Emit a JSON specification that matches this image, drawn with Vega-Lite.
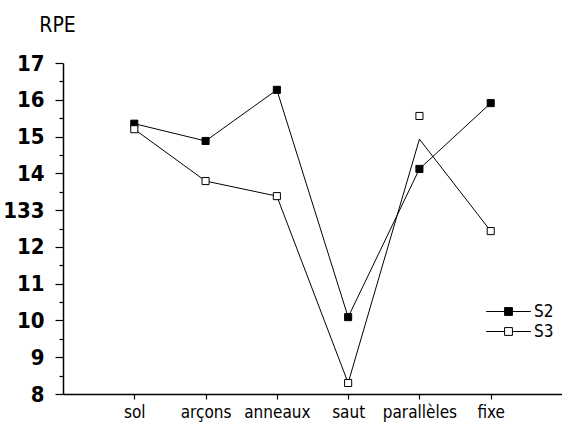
{
  "$schema": "https://vega.github.io/schema/vega-lite/v6.json",
  "width": 499,
  "height": 331,
  "autosize": {"type": "none"},
  "padding": {"left": 63, "top": 63, "right": 0, "bottom": 33},
  "background": "white",
  "config": {
    "view": {"stroke": null},
    "font": "DejaVu Sans Condensed",
    "axis": {"grid": false, "domainColor": "black", "tickColor": "black", "labelColor": "black", "titleColor": "black", "domainWidth": 1.5, "tickWidth": 1.2}
  },
  "data": {
    "values": [
      {"agres": "sol", "serie": "S2", "rpe": 15.35, "ligne": 15.35},
      {"agres": "arçons", "serie": "S2", "rpe": 14.88, "ligne": 14.88},
      {"agres": "anneaux", "serie": "S2", "rpe": 16.27, "ligne": 16.27},
      {"agres": "saut", "serie": "S2", "rpe": 10.09, "ligne": 10.09},
      {"agres": "parallèles", "serie": "S2", "rpe": 14.12, "ligne": 14.12},
      {"agres": "fixe", "serie": "S2", "rpe": 15.91, "ligne": 15.91},
      {"agres": "sol", "serie": "S3", "rpe": 15.2, "ligne": 15.2},
      {"agres": "arçons", "serie": "S3", "rpe": 13.79, "ligne": 13.79},
      {"agres": "anneaux", "serie": "S3", "rpe": 13.38, "ligne": 13.38},
      {"agres": "saut", "serie": "S3", "rpe": 8.3, "ligne": 8.3},
      {"agres": "parallèles", "serie": "S3", "rpe": 15.56, "ligne": 14.93},
      {"agres": "fixe", "serie": "S3", "rpe": 12.43, "ligne": 12.43}
    ]
  },
  "encoding": {
    "x": {
      "field": "agres", "type": "nominal",
      "sort": ["sol", "arçons", "anneaux", "saut", "parallèles", "fixe"],
      "scale": {"type": "point", "padding": 1},
      "axis": {"title": null, "labelAngle": 0, "labelFontSize": 17, "tickSize": 5, "labelPadding": 5, "domainWidth": 1.5}
    }
  },
  "layer": [
    {
      "mark": {"type": "line", "color": "black", "strokeWidth": 1},
      "encoding": {
        "y": {
          "field": "ligne", "type": "quantitative",
          "scale": {"domain": [8, 17], "nice": false, "zero": false},
          "axis": {
            "values": [8, 9, 10, 11, 12, 13, 14, 15, 16, 17],
            "labelExpr": "datum.value == 13 ? '133' : datum.label",
            "labelFontSize": 22, "labelFontWeight": "bold", "tickSize": 8, "labelPadding": 11,
            "title": "RPE", "titleAngle": 0, "titleAlign": "center", "titleBaseline": "middle",
            "titleX": -6, "titleY": -38, "titleFontSize": 21, "titleFontWeight": "normal"
          }
        },
        "detail": {"field": "serie"}
      }
    },
    {
      "mark": {"type": "square", "size": 50, "stroke": "black", "strokeWidth": 1, "opacity": 1},
      "encoding": {
        "y": {
          "field": "rpe", "type": "quantitative",
          "axis": {"orient": "left", "values": [8.5, 9.5, 10.5, 11.5, 12.5, 13.5, 14.5, 15.5, 16.5], "labels": false, "domain": false, "tickSize": 4, "title": null}
        },
        "fill": {
          "field": "serie", "type": "nominal",
          "scale": {"domain": ["S2", "S3"], "range": ["black", "white"]},
          "legend": {
            "title": null, "orient": "none", "legendX": 437, "legendY": 240,
            "symbolType": "M-4,0H-0.7M0.7,0H4M-0.7,-0.7H0.7V0.7H-0.7Z",
            "symbolSize": 125, "symbolStrokeColor": "black", "symbolStrokeWidth": 1,
            "labelFontSize": 17, "labelOffset": 17, "rowPadding": 2, "padding": 0, "labelColor": "black"
          }
        }
      }
    }
  ],
  "resolve": {"axis": {"y": "independent"}}
}
